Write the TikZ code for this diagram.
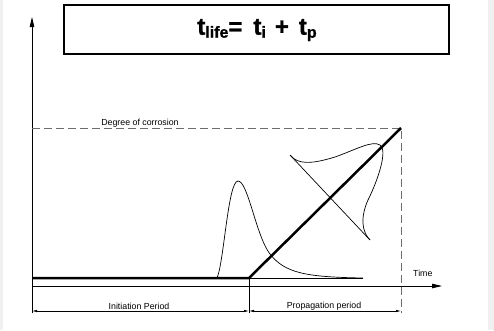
\documentclass[tikz,border=0pt]{standalone}
\usepackage{fontspec}
\setmainfont{Liberation Sans}
\newfontfamily\titlefont[FakeBold=1.2]{Liberation Sans Bold}
\usetikzlibrary{arrows.meta}
\newcommand{\tsub}[1]{\raisebox{-3pt}{\fontsize{16}{16}\selectfont #1}}
\begin{document}
\begin{tikzpicture}[x=1pt,y=-1pt,
  axis/.style={line width=0.8pt,-{Triangle[length=10pt,width=4.5pt]}},
  dimline/.style={line width=0.7pt,{Latex[length=5pt,width=2.5pt]}-{Latex[length=5pt,width=2.5pt]}},
  thin line/.style={line width=0.7pt},
  thick curve/.style={line width=2.5pt},
  dashline/.style={line width=1pt,gray!85!black,dash pattern=on 8pt off 4pt},
  lbl/.style={font=\fontsize{8.8}{10}\selectfont,inner sep=0pt}]
\useasboundingbox (0,0) rectangle (494,330);
\fill[gray!12] (0,0) rectangle (494,330);
\fill[white] (3,0) rectangle (488,330);
% title box
\node[draw,line width=1.6pt,minimum width=385pt,minimum height=49pt,inner sep=0pt] (title) at (256.5,29.5) {};
\node[inner sep=0pt,font=\titlefont\fontsize{24}{24}\selectfont] (eq) at (257,30)
 {t\tsub{life}=\hspace{11pt}t\tsub{i}\hspace{9pt}+\hspace{10pt}t\tsub{p}};
% coordinates
\coordinate (O) at (32,286);
\coordinate (ybot) at (32,313);
\coordinate (ytop) at (32,17);
\coordinate (xend) at (442,286);
\coordinate (b0) at (32,278);
\coordinate (ti) at (249,278);
\coordinate (tend) at (401,128);
\coordinate (dl) at (32,128);
\coordinate (tibot) at (249,313);
\coordinate (tendbot) at (401,313);
\coordinate (tail) at (363,278);
% axes
\draw[axis] (ybot) -- (ytop);
\draw[axis] (O) -- (xend);
% dashed
\draw[dashline] (dl) -- (tend) -- (tendbot);
\node[lbl,anchor=base] (doc) at (140,125) {Degree of corrosion};
\node[lbl,anchor=base west] (time) at (413,276) {Time};
% curves
\draw[thin line] (ti) -- (tail);
\draw[thin line] (217,278) .. controls (224,262) and (228,181) .. (238,181)
  .. controls (248,181) and (256,236) .. (270,254)
  .. controls (285,273) and (305,277) .. (tail);
\draw[thin line] (290,155) -- (370,240);
\draw[thin line] (290,155) .. controls (298,165) and (312,164) .. (335,157)
  .. controls (355,150) and (372,140) .. (380,145)
  .. controls (388,150) and (378,180) .. (368,200)
  .. controls (360,218) and (362,232) .. (370,240);
\draw[thick curve] (b0) -- (ti) -- (tend);
% dimensions
\draw[thin line] (ti) -- (tibot);
\draw[dimline] (32,311) -- (249,311);
\draw[dimline] (249,311) -- (401,311);
\node[lbl,anchor=base] (ini) at (139,309) {Initiation Period};
\node[lbl,anchor=base] (prop) at (324,308) {Propagation period};
\end{tikzpicture}
\end{document}
